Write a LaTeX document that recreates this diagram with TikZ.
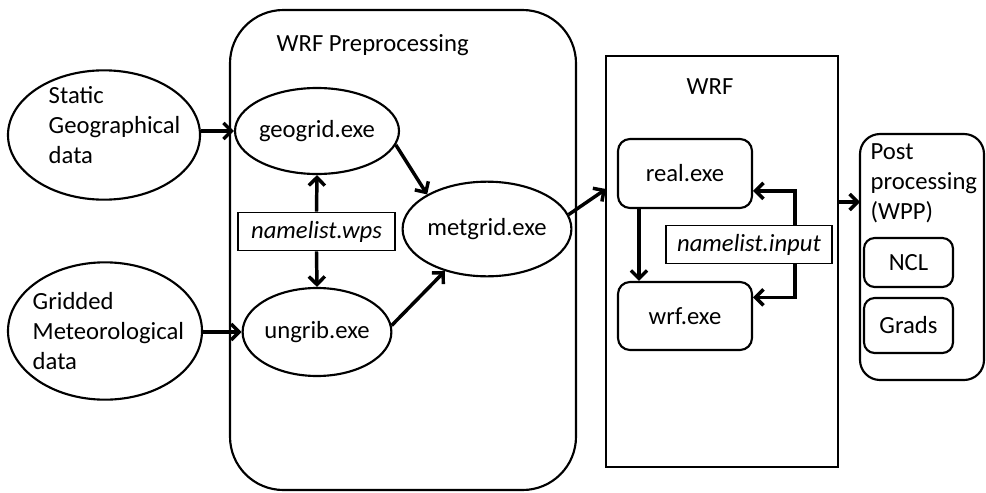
\documentclass[tikz,border=0pt]{standalone}
\usepackage{fontspec}
\setmainfont{Carlito}
\usetikzlibrary{shapes.geometric,arrows.meta}

\newcommand{\diafont}{\fontsize{18.5}{22.5}\selectfont}

\tikzset{
  oval/.style={draw, ellipse, line width=1.6pt, inner sep=0pt},
  progbox/.style={draw, rounded corners=9pt, line width=1.6pt, minimum width=100.5pt, inner sep=0pt},
  namebox/.style={draw, line width=0.8pt, minimum height=29pt, inner sep=0pt, font=\diafont\itshape},
  flow/.style={line width=2.6pt, -{Straight Barb[length=6pt,width=12pt]}},
}

\begin{document}
\begin{tikzpicture}[x=0.75pt, y=-0.75pt, font=\diafont]
\useasboundingbox (0,0) rectangle (986,493);

% input data
\node[oval, minimum width=144pt, minimum height=97pt] (static) at (104,135) {};
\node[anchor=west, align=left] (statictxt) at (44,125) {Static\\Geographical\\data};
\node[oval, minimum width=145.5pt, minimum height=103pt] (gridded) at (105,331) {};
\node[anchor=west, align=left] (griddedtxt) at (28,331) {Gridded\\Meteorological\\data};

% WRF preprocessing
\draw[line width=1.6pt, rounded corners=40pt] (230,10) rectangle (576,490);
\node[anchor=west] (pretitle) at (272,45) {WRF Preprocessing};
\node[oval, minimum width=105pt, minimum height=64.5pt] (geogrid) at (317,131) {geogrid.exe};
\node[oval, minimum width=105pt, minimum height=66pt] (ungrib) at (317,332) {ungrib.exe};
\node[oval, minimum width=105pt, minimum height=71pt] (metgrid) at (487,229) {metgrid.exe};
\node[namebox, minimum width=117.75pt] (wps) at (316.5,231.5) {namelist.wps};

% WRF
\node[draw, line width=1.6pt, minimum width=174pt, minimum height=308.25pt] (wrf) at (722,261.5) {};
\node (wrftitle) at (710,87) {WRF};
\node[progbox, minimum height=51.75pt] (real) at (685,173.5) {real.exe};
\node[progbox, minimum height=51pt] (wrfexe) at (685,316) {wrf.exe};
\node[namebox, minimum width=124.5pt] (input) at (749,244.5) {namelist.input};

% post processing
\node[draw, line width=1.6pt, rounded corners=15pt, minimum width=93pt, minimum height=184.5pt] (post) at (922,257) {};
\node[anchor=west, align=left] (posttxt) at (866,183) {Post\\processing\\(WPP)};
\node[draw, line width=1.6pt, rounded corners=8pt, minimum width=66.75pt, minimum height=36.75pt] (ncl) at (908.5,262.5) {NCL};
\node[draw, line width=1.6pt, rounded corners=8pt, minimum width=66.75pt, minimum height=41.25pt] (grads) at (908.5,325.5) {Grads};

\coordinate (wrfin) at (606,189);
\coordinate (postin) at (860,202);

% connectors
\draw[flow] (static.east |- geogrid.west) -- (geogrid.west);
\draw[flow] (gridded.east |- ungrib.west) -- (ungrib.west);
\draw[flow] (wps.north) -- (geogrid.south);
\draw[flow] (wps.south) -- (ungrib.north);
\draw[flow] (geogrid.-10) -- (metgrid.150);
\draw[flow] (ungrib.5) -- (metgrid.-135);
\draw[flow] (metgrid.10) -- (wrfin);
\draw[flow] ([xshift=-34.5pt]real.south) -- ([xshift=-34.5pt]wrfexe.north);
\draw[flow] ([xshift=34.5pt]input.north) |- ([yshift=-13pt]real.east);
\draw[flow] ([xshift=34.5pt]input.south) |- ([yshift=14pt]wrfexe.east);
\draw[flow] (wrf.east |- postin) -- (postin);
\end{tikzpicture}
\end{document}
